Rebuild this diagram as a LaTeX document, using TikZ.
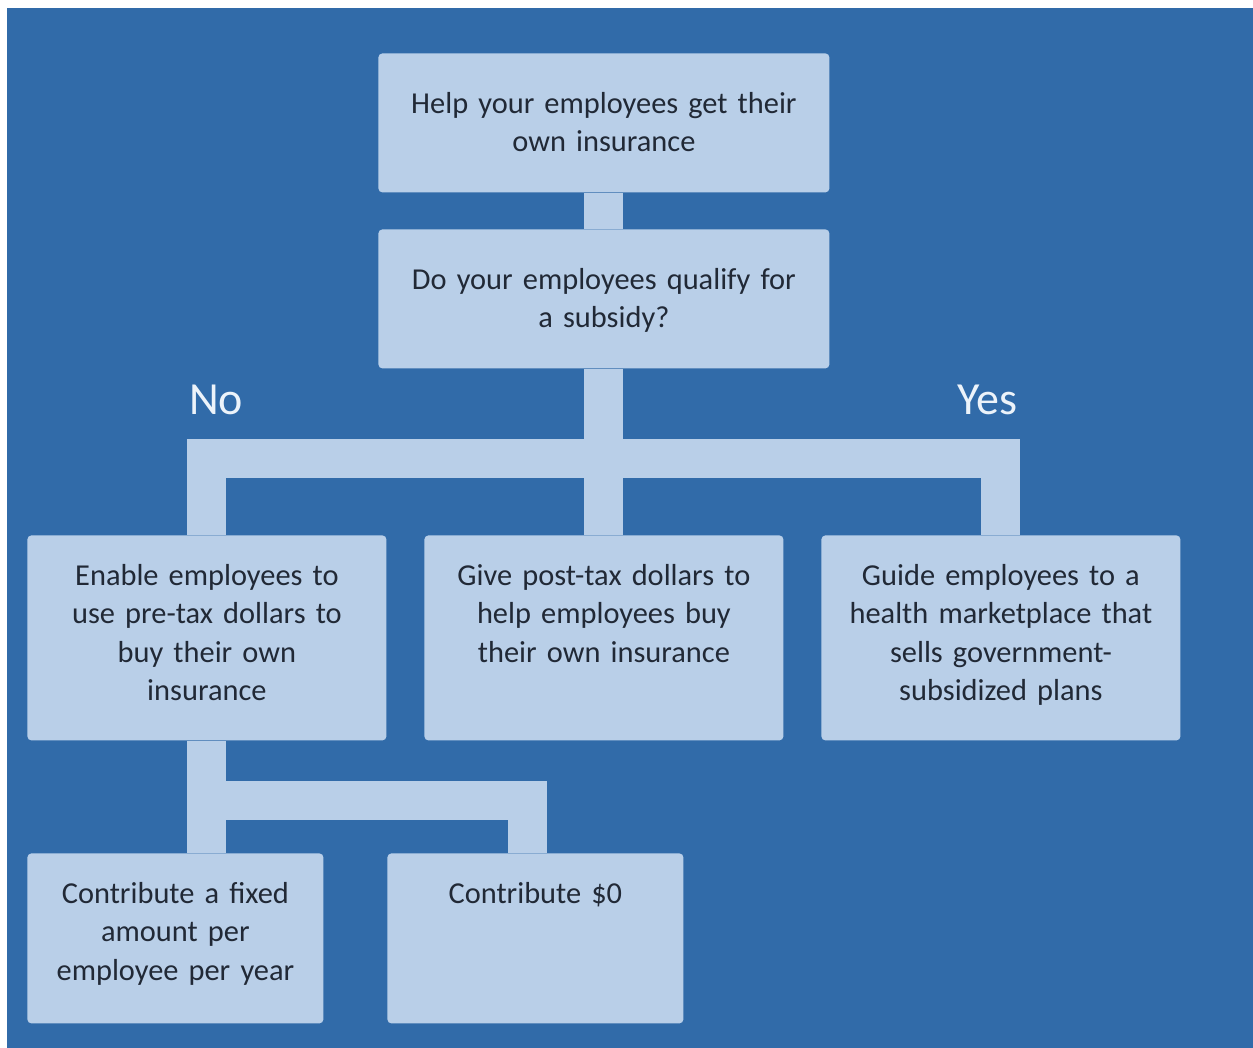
\documentclass[tikz,border=0pt]{standalone}
\usepackage{fontspec}
\setmainfont{Carlito}
\usepackage{tikz}
\usetikzlibrary{positioning}
\usepackage{xcolor}
\definecolor{bgblue}{RGB}{49,107,169}
\definecolor{cardblue}{RGB}{185,207,232}
\definecolor{inkgray}{RGB}{33,41,54}
\definecolor{labelwhite}{RGB}{236,243,250}

\tikzset{
    card/.style={fill=cardblue, rounded corners=2pt, inner sep=0pt, anchor=north west,
        align=center, text=inkgray, font=\fontsize{15.2}{19.25}\selectfont},
    wide card/.style={card, text width=225.5pt, text height=30pt, text depth=39.5pt},
    mid card/.style={card, text width=179.5pt, text height=25pt, text depth=77.5pt},
    low card/.style={card, text width=148pt, text height=25pt, text depth=60pt},
    bar/.style={draw=cardblue, line width=19.5pt},
    answer/.style={text=labelwhite, font=\fontsize{23}{27}\selectfont}
}

\begin{document}
\begin{tikzpicture}[x=0.5pt, y=-0.5pt]
    % background
    \fill[white] (0,0) rectangle (1253,1048);
    \fill[bgblue] (7,8) rectangle (1253,1048);
    \useasboundingbox (0,0) rectangle (1253,1048);

    % question boxes
    \node[wide card] (help) at (378,53) {Help your employees get their\\own insurance};
    \node[wide card] (subsidy) at (378,229) {Do your employees qualify for\\a subsidy?};

    % options
    \node[mid card] (enable) at (27,535) {Enable employees to\\use pre-tax dollars to\\buy their own\\insurance};
    \node[mid card] (give) at (424,535) {Give post-tax dollars to\\help employees buy\\their own insurance};
    \node[mid card] (guide) at (821,535) {Guide employees to a\\health marketplace that\\sells government-\\subsidized plans};

    % contributions
    \node[low card] (fixed) at (27,853) {Contribute a fixed\\amount per\\employee per year};
    \node[low card] (zero) at (387,853) {Contribute \$0};

    % answers
    \node[answer] (no) at (216,400) {No};
    \node[answer] (yes) at (987,400) {Yes};

    % connectors
    \coordinate (split) at (603.5,458);
    \coordinate (fork) at (207,800);
    \coordinate (drop) at (527.5,853);
    \draw[bar] (help.south) -- (subsidy.north);
    \draw[bar] (subsidy.south) -- (give.north);
    \draw[bar] (enable.north) |- (split) -| (guide.north);
    \draw[bar] (enable.south) -- (enable.south |- fixed.north);
    \draw[bar] (fork) -| (drop);
\end{tikzpicture}
\end{document}
